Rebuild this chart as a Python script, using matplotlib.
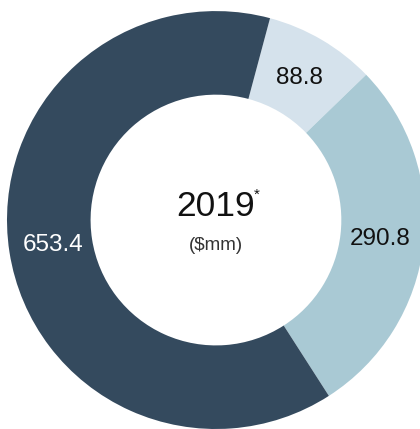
import matplotlib
matplotlib.use("Agg")
import matplotlib.pyplot as plt

# slice values ($mm), drawn clockwise from the top
segments = ["Segment A", "Segment B", "Segment C"]
values = [88.8, 290.8, 653.4]
colors = ["#d5e2ec", "#a9c9d4", "#344a5e"]
label_colors = ["#111111", "#111111", "#ffffff"]
year = "2019"
unit = "($mm)"

total = sum(values)

plt.rcParams["font.family"] = ["Liberation Sans", "DejaVu Sans"]

fig = plt.figure(figsize=(4.2, 4.29), dpi=100)
ax = fig.add_axes([0, 0, 1, 1])

wedges, texts, autotexts = ax.pie(
    values,
    colors=colors,
    startangle=75,
    counterclock=False,
    radius=1.0,
    wedgeprops=dict(width=0.40, edgecolor="none"),
    autopct=lambda p: f"{p * total / 100:.1f}",
    pctdistance=0.79,
    textprops=dict(fontsize=17.5),
)
for t, c in zip(autotexts, label_colors):
    t.set_color(c)

yt = ax.text(0, 0.067, year, ha="center", va="center", fontsize=25.5, color="#111111")
# asterisk sits just after the year, raised
ax.annotate("*", xy=(1, 1), xycoords=yt, xytext=(-1, 1), textcoords="offset points",
            ha="left", va="top", fontsize=11, color="#111111")
ax.text(0, -0.124, unit, ha="center", va="center", fontsize=13.5, color="#333333")

ax.set_xlim(-1.033, 0.976)
ax.set_ylim(-1.0, 1.053)
ax.set_aspect("equal")
ax.axis("off")

fig.savefig("out.png", dpi=100)
